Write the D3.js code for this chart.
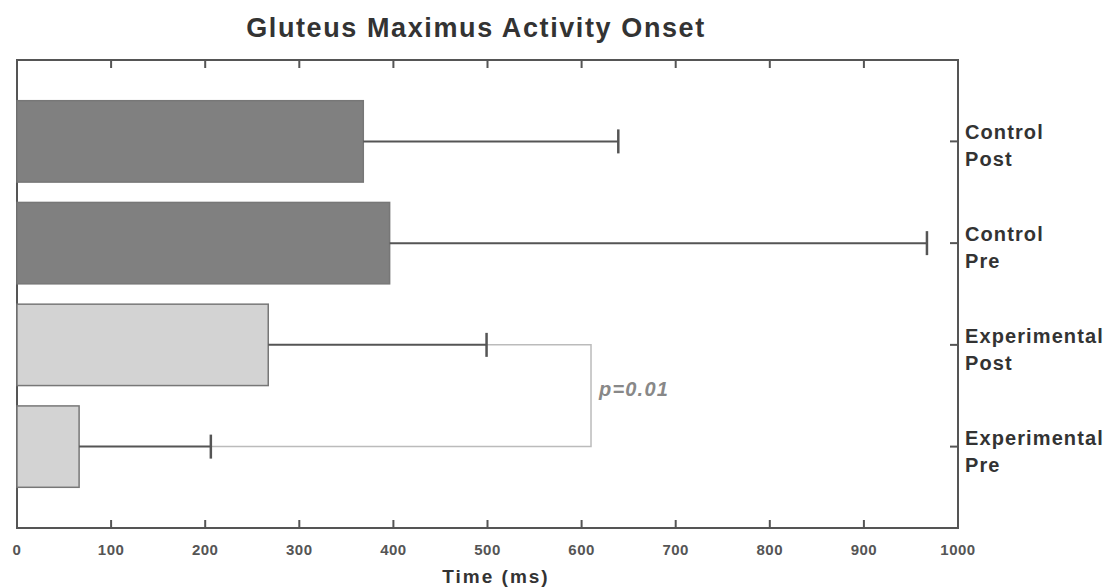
<!DOCTYPE html>
<html>
<head>
<meta charset="utf-8">
<script src="https://cdn.jsdelivr.net/npm/d3@7"></script>
<style>
  body { margin: 0; background: #fff; }
  text { font-family: "Liberation Sans", Arial, sans-serif; }
</style>
</head>
<body>
<script>
// values (ms)
const groups = ["Control Post", "Control Pre", "Experimental Post", "Experimental Pre"];
const means = [368, 396, 267, 66];
const errors = [639, 967, 499, 206];
const fills = ["#808080", "#808080", "#d3d3d3", "#d3d3d3"];
const xTicks = [0, 100, 200, 300, 400, 500, 600, 700, 800, 900, 1000];
const pText = "p=0.01";

function init() {
  const width = 1109, height = 588;
  const left = 17, right = 958, top = 60, bottom = 528;

  const svg = d3.select("body").append("svg")
    .attr("width", width)
    .attr("height", height);

  const x = d3.scaleLinear().domain([0, 1000]).range([left, right]);
  const y = d3.scalePoint().domain(groups).range([top, bottom]).padding(0.8);
  const barH = y.step() * 0.8;

  svg.append("text")
    .attr("x", 476)
    .attr("y", 37)
    .attr("text-anchor", "middle")
    .attr("font-size", "27px")
    .attr("font-weight", "bold")
    .attr("letter-spacing", "1.6px")
    .attr("fill", "#333")
    .text("Gluteus Maximus Activity Onset");

  // frame
  svg.append("rect")
    .attr("x", left).attr("y", top)
    .attr("width", right - left).attr("height", bottom - top)
    .attr("fill", "none")
    .attr("stroke", "#555")
    .attr("stroke-width", 2);

  // x ticks on bottom and top, pointing inward
  svg.selectAll(".tb").data(xTicks.slice(1, -1)).join("line")
    .attr("x1", d => x(d)).attr("x2", d => x(d))
    .attr("y1", bottom).attr("y2", bottom - 8)
    .attr("stroke", "#555").attr("stroke-width", 2);
  svg.selectAll(".tt").data(xTicks.slice(1, -1)).join("line")
    .attr("x1", d => x(d)).attr("x2", d => x(d))
    .attr("y1", top).attr("y2", top + 8)
    .attr("stroke", "#555").attr("stroke-width", 2);

  svg.selectAll(".xl").data(xTicks).join("text")
    .attr("x", d => x(d))
    .attr("y", 555)
    .attr("text-anchor", "middle")
    .attr("font-size", "15px")
    .attr("font-weight", "bold")
    .attr("letter-spacing", "0.5px")
    .attr("fill", "#555")
    .text(d => d);

  svg.append("text")
    .attr("x", 496)
    .attr("y", 583)
    .attr("text-anchor", "middle")
    .attr("font-size", "19px")
    .attr("font-weight", "bold")
    .attr("letter-spacing", "2px")
    .attr("fill", "#333")
    .text("Time (ms)");

  // right ticks + labels
  svg.selectAll(".ty").data(groups).join("line")
    .attr("x1", right).attr("x2", right - 8)
    .attr("y1", d => y(d)).attr("y2", d => y(d))
    .attr("stroke", "#555").attr("stroke-width", 2);

  const lab = svg.selectAll(".yl").data(groups).join("text")
    .attr("font-size", "20px")
    .attr("font-weight", "bold")
    .attr("letter-spacing", "1.1px")
    .attr("fill", "#333");
  lab.append("tspan").attr("x", right + 7).attr("y", d => y(d) - 2)
    .text(d => d.split(" ")[0]);
  lab.append("tspan").attr("x", right + 7).attr("y", d => y(d) + 25)
    .text(d => d.split(" ")[1]);

  // bars
  svg.selectAll(".bar").data(groups).join("rect")
    .attr("x", x(0))
    .attr("y", d => y(d) - barH / 2)
    .attr("width", (d, i) => x(means[i]) - x(0))
    .attr("height", barH)
    .attr("fill", (d, i) => fills[i])
    .attr("stroke", "#777")
    .attr("stroke-width", 1.5);

  // significance bracket
  const sx = x(610);
  svg.append("polyline")
    .attr("points", [
      [x(errors[2]), y(groups[2])], [sx, y(groups[2])],
      [sx, y(groups[3])], [x(errors[3]), y(groups[3])]
    ].map(p => p.join(",")).join(" "))
    .attr("fill", "none")
    .attr("stroke", "#bbb")
    .attr("stroke-width", 1.5);

  svg.append("text")
    .attr("x", sx + 8)
    .attr("y", (y(groups[2]) + y(groups[3])) / 2)
    .attr("font-size", "20px")
    .attr("font-weight", "bold")
    .attr("font-style", "italic")
    .attr("letter-spacing", "1.2px")
    .attr("fill", "#888")
    .text(pText);

  // error bars
  svg.selectAll(".err").data(groups).join("line")
    .attr("x1", (d, i) => x(means[i]))
    .attr("x2", (d, i) => x(errors[i]))
    .attr("y1", d => y(d)).attr("y2", d => y(d))
    .attr("stroke", "#555").attr("stroke-width", 2);
  svg.selectAll(".cap").data(groups).join("line")
    .attr("x1", (d, i) => x(errors[i]))
    .attr("x2", (d, i) => x(errors[i]))
    .attr("y1", d => y(d) - 12).attr("y2", d => y(d) + 12)
    .attr("stroke", "#555").attr("stroke-width", 2.5);
}

init();
</script>
</body>
</html>
